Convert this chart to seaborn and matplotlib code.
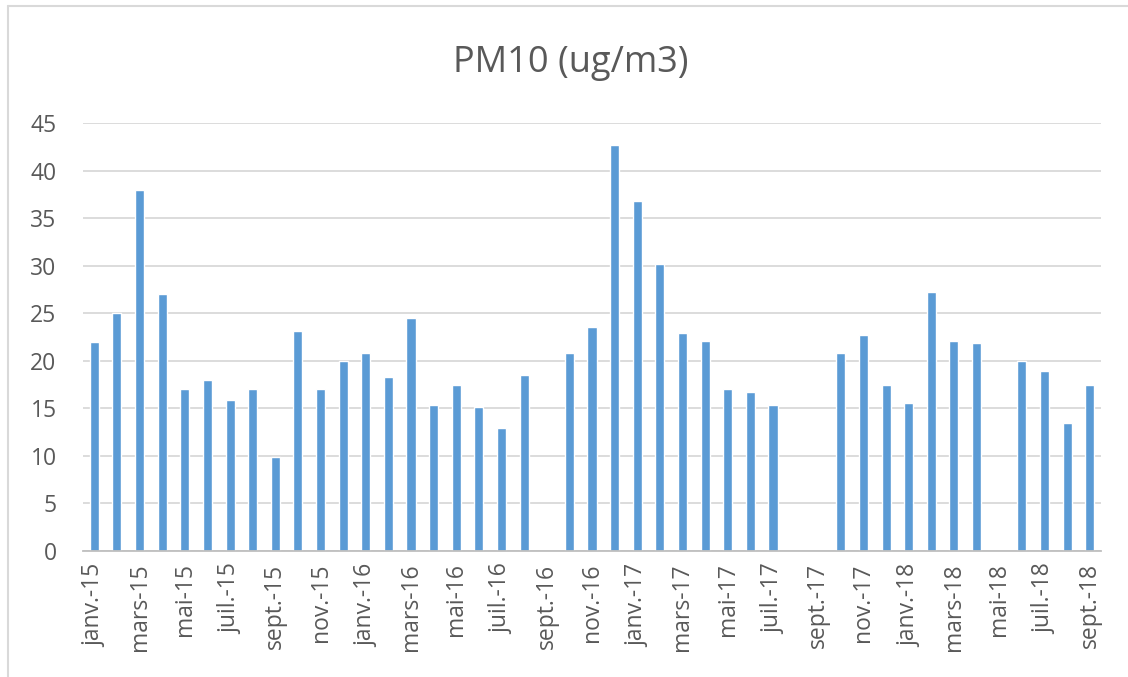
import matplotlib
matplotlib.use("Agg")
import matplotlib.pyplot as plt
from matplotlib.lines import Line2D
import numpy as np
import pandas as pd
import seaborn as sns

months = [
    "janv.-15", "févr.-15", "mars-15", "avr.-15", "mai-15", "juin-15", "juil.-15", "août-15",
    "sept.-15", "oct.-15", "nov.-15", "déc.-15",
    "janv.-16", "févr.-16", "mars-16", "avr.-16", "mai-16", "juin-16", "juil.-16", "août-16",
    "sept.-16", "oct.-16", "nov.-16", "déc.-16",
    "janv.-17", "févr.-17", "mars-17", "avr.-17", "mai-17", "juin-17", "juil.-17", "août-17",
    "sept.-17", "oct.-17", "nov.-17", "déc.-17",
    "janv.-18", "févr.-18", "mars-18", "avr.-18", "mai-18", "juin-18", "juil.-18", "août-18",
    "sept.-18",
]
pm10 = [
    22.0, 25.0, 38.0, 27.0, 17.0, 18.0, 15.9, 17.0,
    9.9, 23.1, 17.0, 20.0,
    20.8, 18.3, 24.5, 15.4, 17.5, 15.1, 12.9, 18.5,
    np.nan, 20.8, 23.5, 42.7,
    36.8, 30.2, 22.9, 22.1, 17.0, 16.7, 15.4, np.nan,
    np.nan, 20.8, 22.7, 17.5,
    15.6, 27.2, 22.1, 21.9, np.nan, 20.0, 18.9, 13.5,
    17.5,
]
yticks = [0, 5, 10, 15, 20, 25, 30, 35, 40, 45]
title = "PM10 (ug/m3)"

sns.set_theme(style="white")
plt.rcParams["font.family"] = ["Open Sans", "DejaVu Sans"]

df = pd.DataFrame({"mois": months, "pm10": pm10})

W, H = 1128, 677
fig = plt.figure(figsize=(W / 100, H / 100), dpi=100)
ax = fig.add_axes([83 / W, 1 - 551 / H, (1101 - 83) / W, (551 - 123) / H])

sns.barplot(data=df, x="mois", y="pm10", order=months, color="#5B9BD5",
            saturation=1, width=0.4, ax=ax, errorbar=None)

ax.set_ylim(0, 45)
ax.set_xlim(-0.5, len(months) - 0.5)
ax.set_yticks(yticks)
ax.set_yticklabels([str(t) for t in yticks])
ax.set_xlabel("")
ax.set_ylabel("")
ax.yaxis.grid(True, color="#D9D9D9", linewidth=1.3)
ax.set_axisbelow(True)
for s in ["top", "right", "left"]:
    ax.spines[s].set_visible(False)
ax.spines["bottom"].set_color("#BFBFBF")
ax.spines["bottom"].set_linewidth(1.3)

ax.set_xticks(range(len(months)))
ax.set_xticklabels([m if i % 2 == 0 else "" for i, m in enumerate(months)],
                   rotation=90, fontsize=16.5, color="#595959")
ax.tick_params(axis="x", length=0, pad=9)
ax.tick_params(axis="y", length=0, pad=19, labelsize=16.5, labelcolor="#595959")

fig.text(571 / W, 1 - 63 / H, title, ha="center", va="center",
         fontsize=26, color="#595959")

# chart frame
fig.add_artist(Line2D([8 / W, 1], [1 - 6 / H, 1 - 6 / H], transform=fig.transFigure,
                      color="#D9D9D9", linewidth=1.5))
fig.add_artist(Line2D([8 / W, 8 / W], [0, 1 - 6 / H], transform=fig.transFigure,
                      color="#D9D9D9", linewidth=1.5))

fig.savefig("out.png", dpi=100)
